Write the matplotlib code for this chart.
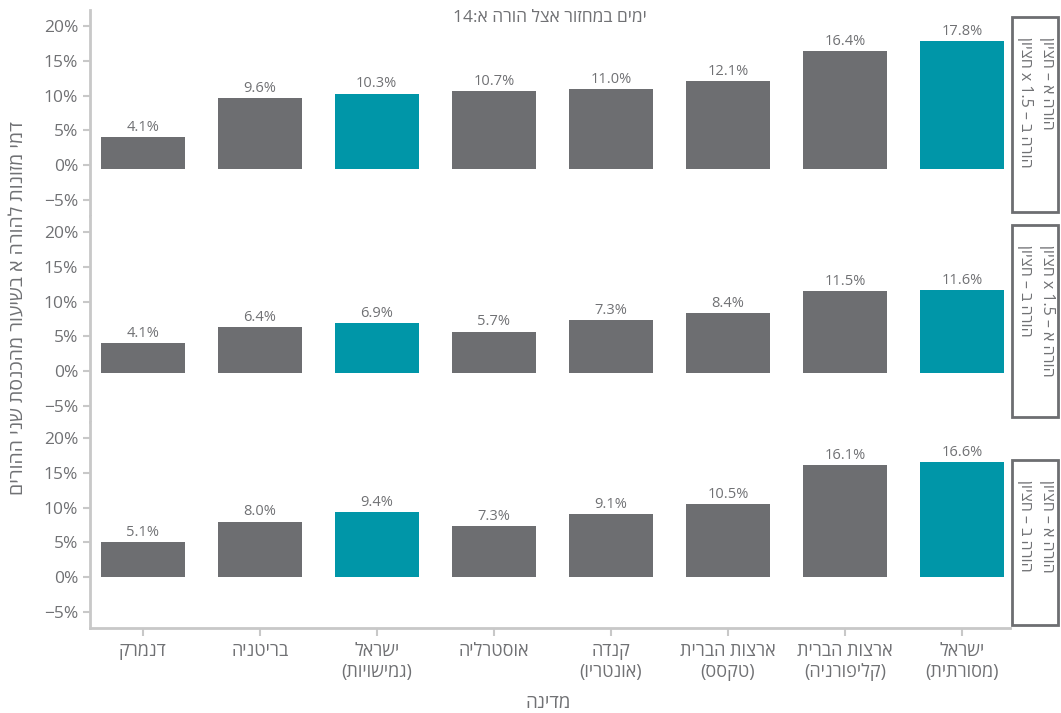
import re
import matplotlib
matplotlib.use("Agg")
import matplotlib.pyplot as plt
from matplotlib.patches import Rectangle

plt.rcParams['font.family'] = ['Open Sans', 'DejaVu Sans']
plt.rcParams['axes.unicode_minus'] = True


def rtl(s):
    # matplotlib has no bidi, so put hebrew in visual order by hand
    lines = []
    for line in s.split('\n'):
        toks = []
        for tok in line.split(' ')[::-1]:
            if any('\u0590' <= c <= '\u05ff' for c in tok):
                runs = re.findall(r'[0-9.]+|[^0-9.]+', tok)[::-1]
                tok = ''.join(r if r[0].isdigit() else
                              r[::-1].translate(str.maketrans('()', ')('))
                              for r in runs)
            toks.append(tok)
        lines.append(' '.join(toks))
    return '\n'.join(lines)


countries = ['דנמרק', 'בריטניה', 'ישראל\n(גמישויות)', 'אוסטרליה',
             'קנדה\n(אונטריו)', 'ארצות הברית\n(טקסס)',
             'ארצות הברית\n(קליפורניה)', 'ישראל\n(מסורתית)']
top_vals = [4.1, 9.6, 10.3, 10.7, 11.0, 12.1, 16.4, 17.8]
mid_vals = [4.1, 6.4, 6.9, 5.7, 7.3, 8.4, 11.5, 11.6]
bot_vals = [5.1, 8.0, 9.4, 7.3, 9.1, 10.5, 16.1, 16.6]
panels = [top_vals, mid_vals, bot_vals]
strips = [['הורה א – חציון', 'הורה ב – 1.5 x חציון'],
          ['הורה א – 1.5 x חציון', 'הורה ב – חציון'],
          ['הורה א – חציון', 'הורה ב – חציון']]
israel = [2, 7]
yticks = [-5, 0, 5, 10, 15, 20]

gray = '#6d6e71'
teal = '#0096a8'
axis_gray = '#c8c8c8'
text_gray = '#707174'
bar_floor = [-0.6, -0.3, 0.0]

fig = plt.figure(figsize=(10.61, 7.13), dpi=100)
gs = fig.add_gridspec(3, 1, left=90/1061, right=1010/1061,
                      top=1-10/713, bottom=1-628/713, hspace=0)

x = list(range(len(countries)))
for i, vals in enumerate(panels):
    ax = fig.add_subplot(gs[i])
    cols = [teal if k in israel else gray for k in x]
    heights = [v - bar_floor[i] for v in vals]
    ax.bar(x, heights, bottom=bar_floor[i], width=0.72, color=cols)
    for k, v in zip(x, vals):
        ax.text(k, v + 0.3, f'{v:.1f}%', ha='center', va='bottom',
                fontsize=10.5, color=text_gray)
    ax.set_ylim(-7.3, 22.3)
    ax.set_xlim(-0.45, 7.41)
    ax.set_yticks(yticks)
    ax.set_yticklabels([f'{t}%'.replace('-', '\u2212') for t in yticks])
    for s in ['top', 'right', 'bottom']:
        ax.spines[s].set_visible(False)
    ax.spines['left'].set_color(axis_gray)
    ax.spines['left'].set_linewidth(2)
    ax.tick_params(axis='y', colors=axis_gray, labelcolor=text_gray,
                   labelsize=12.5, length=5, width=1.5)
    if i == 2:
        ax.spines['bottom'].set_visible(True)
        ax.spines['bottom'].set_color(axis_gray)
        ax.spines['bottom'].set_linewidth(2)
        ax.set_xticks(x)
        ax.set_xticklabels([rtl(c) for c in countries])
        ax.tick_params(axis='x', colors=axis_gray, labelcolor=text_gray,
                       labelsize=13, length=6, width=1.5, pad=4)
    else:
        ax.set_xticks([])

# facet strips on the right
boxes = [(17, 212), (225, 417), (460, 625)]
for (y0, y1), lab in zip(boxes, strips):
    fig.add_artist(Rectangle((1012/1061, 1 - y1/713), 46/1061, (y1 - y0)/713,
                             transform=fig.transFigure, facecolor='white',
                             edgecolor=gray, linewidth=2))
    fig.text(1036/1061, 1 - (y0 + 20)/713, rtl('\n'.join(lab)),
             rotation=-90, ha='center', va='top', multialignment='left',
             fontsize=11.5, color=text_gray, linespacing=1.5)

fig.text(550/1061, 1 - 18/713, rtl('ימים במחזור אצל הורה א:14'),
         ha='center', va='center', fontsize=12.5, color=text_gray)
fig.text(18/1061, 1 - 308/713, rtl('דמי מזונות להורה א בשיעור מהכנסת שני ההורים'),
         rotation=90, ha='center', va='center', fontsize=14, color=text_gray)
fig.text(548/1061, 1 - 703/713, rtl('מדינה'),
         ha='center', va='center', fontsize=13.5, color=text_gray)

fig.savefig('out.png', dpi=100)
